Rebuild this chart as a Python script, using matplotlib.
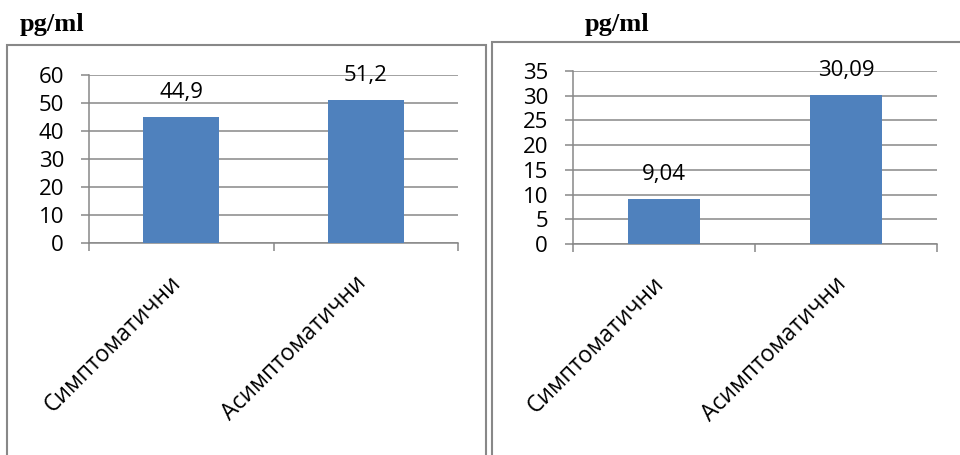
import matplotlib.pyplot as plt
import matplotlib.transforms as mtransforms
from matplotlib.patches import Rectangle

groups = ['Симптоматични', 'Асимптоматични']
left_vals = [44.9, 51.2]
right_vals = [9.04, 30.09]
left_ticks = [0, 10, 20, 30, 40, 50, 60]
right_ticks = [0, 5, 10, 15, 20, 25, 30, 35]
unit = 'pg/ml'

bar_color = '#4F81BD'
line_color = '#888888'

plt.rcParams['font.family'] = ['Open Sans', 'DejaVu Sans']

W, H = 960, 455
fig = plt.figure(figsize=(9.6, 4.55), dpi=100)


def px(x0, y_top, x1, y_bot):
    # pixel box (y from top) -> figure fraction rect
    return [x0 / W, 1 - y_bot / H, (x1 - x0) / W, (y_bot - y_top) / H]


def panel(rect, vals, ticks, width):
    ax = fig.add_axes(rect)
    x = list(range(len(vals)))
    ax.bar(x, vals, width=width, color=bar_color, zorder=3)
    ax.set_xlim(-0.5, len(vals) - 0.5)
    ax.set_ylim(ticks[0], ticks[-1])
    ax.set_yticks(ticks)
    ax.yaxis.grid(True, color=line_color, linewidth=1.1, zorder=0)
    for s in ['top', 'right']:
        ax.spines[s].set_visible(False)
    for s in ['left', 'bottom']:
        ax.spines[s].set_color(line_color)
        ax.spines[s].set_linewidth(1.1)
    ax.tick_params(axis='y', length=6, width=1.1, color=line_color,
                   labelsize=16, pad=12)
    # category boundary marks on x axis, labels at category centres
    ax.set_xticks([i - 0.5 for i in range(len(vals) + 1)], minor=True)
    ax.tick_params(axis='x', which='minor', length=6, width=1.1,
                   color=line_color)
    ax.set_xticks(x)
    ax.set_xticklabels(groups, rotation=45, ha='right', va='top', fontsize=16.5)
    ax.tick_params(axis='x', which='major', length=0, pad=20)
    shift = mtransforms.ScaledTranslation(5 / 100, 0, fig.dpi_scale_trans)
    for lab in ax.get_xticklabels():
        lab.set_transform(lab.get_transform() + shift)
    for xi, v in zip(x, vals):
        ax.annotate(str(v).replace('.', ','), (xi, v), xytext=(0, 19),
                    textcoords='offset pixels', ha='center', va='baseline',
                    fontsize=16)
    return ax


panel(px(89, 75, 458, 243), left_vals, left_ticks, 0.41)
panel(px(573, 71, 937, 244), right_vals, right_ticks, 0.40)

# chart frames
fig.add_artist(Rectangle((7 / W, -0.05), 479 / W, 1.05 - 45 / H,
                         transform=fig.transFigure, fill=False,
                         edgecolor=line_color, linewidth=1.5))
fig.add_artist(Rectangle((492 / W, -0.05), 0.6, 1.05 - 42 / H,
                         transform=fig.transFigure, fill=False,
                         edgecolor=line_color, linewidth=1.5))

for xp in [20, 585]:
    fig.text(xp / W, 1 - 31 / H, unit, va='baseline', ha='left',
             fontsize=19, fontweight='bold', family='Liberation Serif')

fig.savefig('out.png', dpi=100)
